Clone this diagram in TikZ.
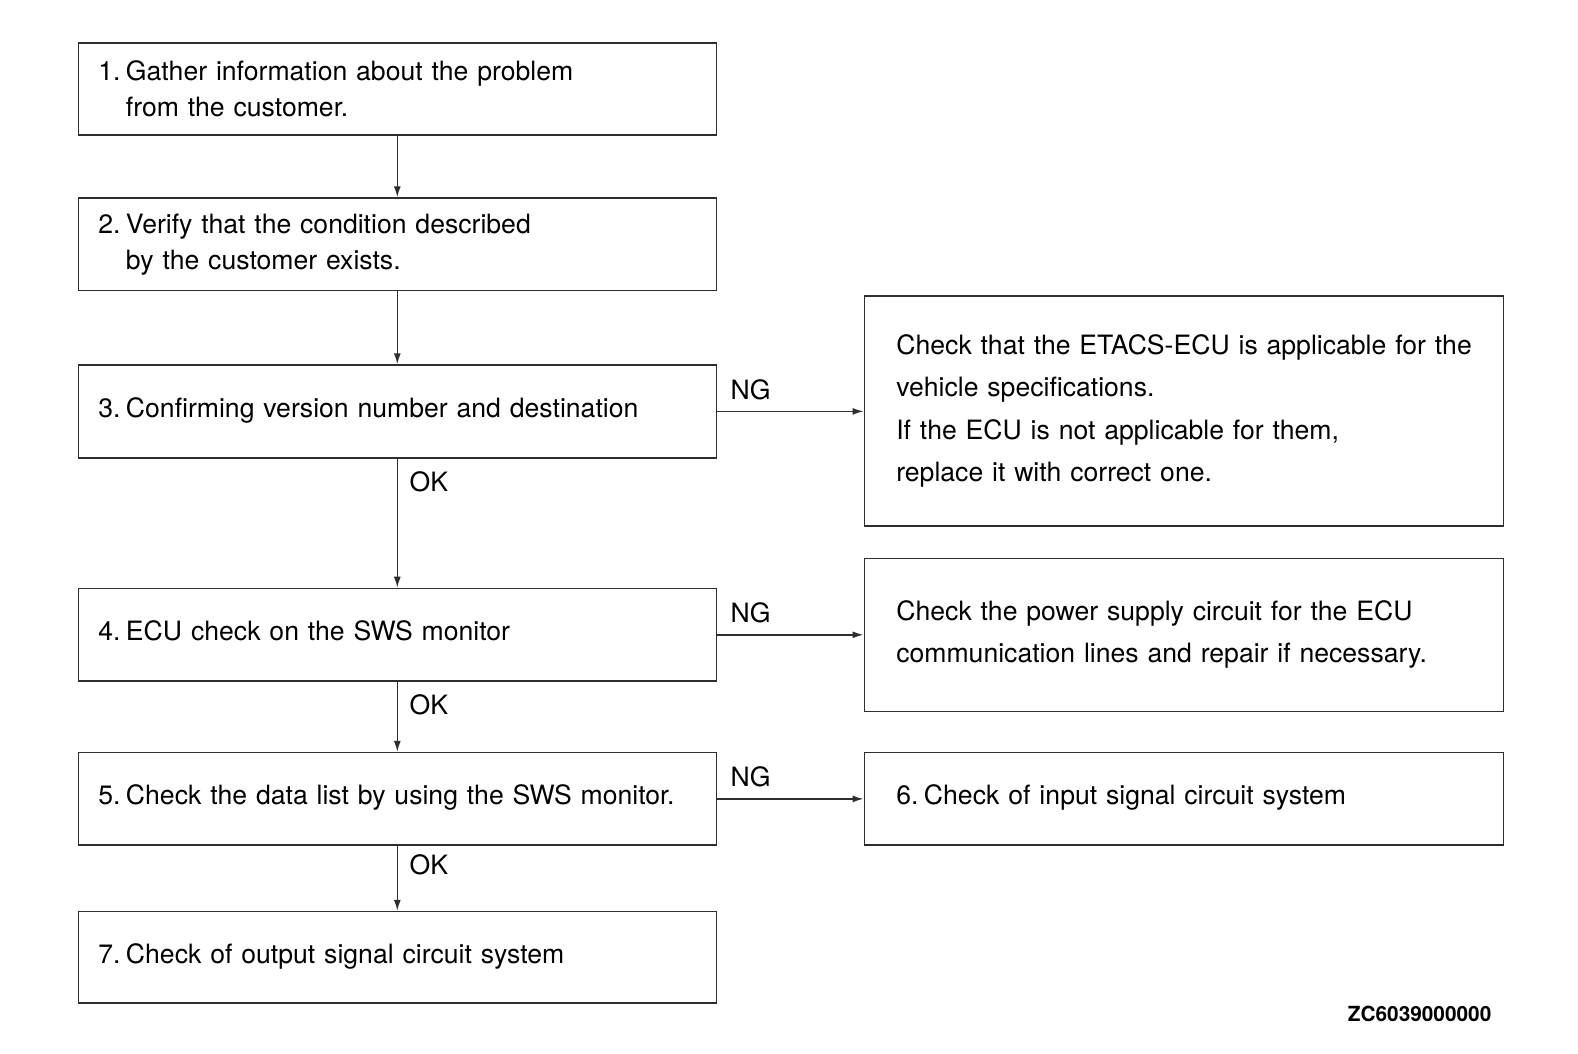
\documentclass[tikz,border=0pt]{standalone}
\usepackage{fontspec}
\setmainfont{TeX Gyre Heros}
\usetikzlibrary{arrows.meta}
\definecolor{ink}{gray}{0.18}
% step number followed by a narrow gap
\newcommand{\stepno}[1]{#1.\kern5.5pt}
\begin{document}
\begin{tikzpicture}[x=1pt,y=-1pt,
  txt/.style={font=\fontsize{26.6}{36.2}\selectfont, text=black},
  leftbox/.style={txt, draw=ink, line width=1.6pt, rectangle, anchor=north west,
    align=left, inner xsep=20pt, inner ysep=0pt, text width=598pt},
  rightbox/.style={leftbox, font=\fontsize{26.6}{42.3}\selectfont,
    inner xsep=32pt, text width=575pt},
  oneline/.style={text height=19pt, text depth=7pt},
  flow/.style={draw=ink, line width=1.5pt, -{Latex[length=11pt,width=7pt]}},
  lbl/.style={txt, inner sep=0pt}
]
% page frame
\path[fill=white] (0,0) rectangle (1578,1053);

% main sequence of steps
\node[leftbox, minimum height=91.6pt] (b1) at (77.5,42.3)
  {\stepno{1}Gather information about the problem\\\hphantom{\stepno{1}}from the customer.};
\node[leftbox, minimum height=92.5pt] (b2) at (77.5,197.3)
  {\stepno{2}Verify that the condition described\\\hphantom{\stepno{2}}by the customer exists.};
\node[leftbox, oneline, minimum height=92.6pt] (b3) at (77.5,364.3)
  {\stepno{3}Confirming version number and destination};
\node[leftbox, oneline, minimum height=92.6pt] (b4) at (77.5,587.7)
  {\stepno{4}ECU check on the SWS monitor};
\node[leftbox, oneline, minimum height=92.6pt] (b5) at (77.5,751.8)
  {\stepno{5}Check the data list by using the SWS monitor.};
\node[leftbox, oneline, minimum height=91.6pt] (b7) at (77.5,910.8)
  {\stepno{7}Check of output signal circuit system};

% remedies on the NG branches
\node[rightbox, minimum height=230.4pt] (r3) at (863.5,294.9)
  {\mbox{Check that the ETACS-ECU is applicable for the}\\vehicle specifications.\\If the ECU is not applicable for them,\\replace it with correct one.};
\node[rightbox, minimum height=153pt] (r4) at (863.5,557.5)
  {\mbox{Check the power supply circuit for the ECU}\\\mbox{communication lines and repair if necessary.}};
\node[rightbox, oneline, minimum height=92.6pt] (r6) at (863.5,751.8)
  {\stepno{6}Check of input signal circuit system};

% vertical connectors
\draw[flow] (b1.south) -- (b2.north);
\draw[flow] (b2.south) -- (b3.north);
\draw[flow] (b3.south) -- (b4.north);
\draw[flow] (b4.south) -- (b5.north);
\draw[flow] (b5.south) -- (b7.north);

% horizontal connectors
\draw[flow] (b3.east) -- (b3.east -| r3.west);
\draw[flow] (b4.east) -- (b4.east -| r4.west);
\draw[flow] (b5.east) -- (b5.east -| r6.west);

% branch labels
\node[lbl] (ng3) at ([xshift=33.5pt,yshift=22pt]b3.east) {NG};
\node[lbl] (ng4) at ([xshift=33.5pt,yshift=22pt]b4.east) {NG};
\node[lbl] (ng5) at ([xshift=33.5pt,yshift=22pt]b5.east) {NG};
\node[lbl] (ok3) at ([xshift=31.5pt,yshift=-23pt]b3.south) {OK};
\node[lbl] (ok4) at ([xshift=31.5pt,yshift=-23pt]b4.south) {OK};
\node[lbl] (ok5) at ([xshift=31.5pt,yshift=-19pt]b5.south) {OK};

% figure code
\node[anchor=east, inner sep=0pt, font=\fontsize{20.8}{24}\selectfont\bfseries] (code)
  at (1491.5,1013.5) {ZC6039000000};
\end{tikzpicture}
\end{document}
